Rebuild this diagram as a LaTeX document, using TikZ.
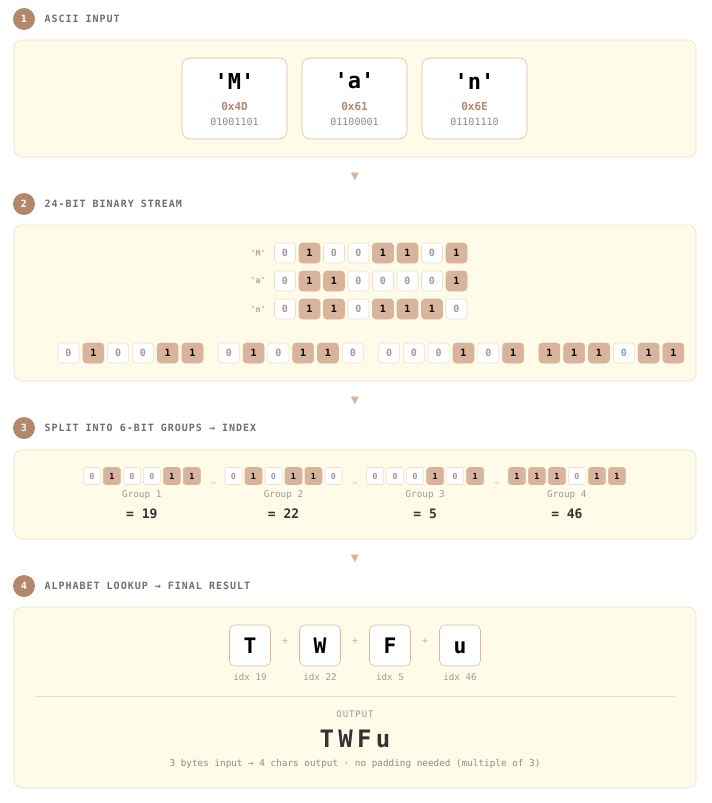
\documentclass[tikz,border=0pt]{standalone}
\usepackage{fontspec}
\setmonofont{DejaVu Sans Mono}
\newfontfamily\headfont[LetterSpace=10]{DejaVu Sans Mono}
\newfontfamily\outfont[LetterSpace=10]{DejaVu Sans Mono}
\newfontfamily\resultfont[LetterSpace=18]{DejaVu Sans Mono}
\usepackage{tikz}
\usetikzlibrary{positioning, calc}

\definecolor{panelfill}{HTML}{FEFCE8}
\definecolor{panelline}{HTML}{EEDDBF}
\definecolor{accent}{HTML}{B3876A}
\definecolor{bitone}{HTML}{D9B49C}
\definecolor{bitline}{HTML}{EBDDC8}
\definecolor{cardline}{HTML}{DDB69C}
\definecolor{headgray}{HTML}{6E6E73}
\definecolor{hexcol}{HTML}{B5896D}
\definecolor{softgray}{HTML}{9A9A9A}
\definecolor{darktext}{HTML}{333333}
\definecolor{markcol}{HTML}{D6B59E}

\begin{document}
\begin{tikzpicture}[
        x=0.75pt, y=-0.75pt,
        font=\ttfamily,
        panel/.style={draw=panelline, fill=panelfill, rounded corners=6pt, minimum width=511.5pt, inner sep=0pt},
        badge/.style={circle, fill=accent, text=white, minimum size=16.5pt, inner sep=0pt, font=\ttfamily\bfseries\fontsize{7.5pt}{8pt}\selectfont},
        section title/.style={inner sep=0pt, text=headgray, font=\headfont\bfseries\fontsize{7.5pt}{9pt}\selectfont},
        down mark/.style={text=markcol, inner sep=0pt, font=\ttfamily\fontsize{10pt}{11pt}\selectfont},
        char card/.style={draw=cardline, fill=white, rounded corners=6pt, minimum width=78.75pt, minimum height=60.75pt},
        big char/.style={inner sep=0pt, text=black, font=\ttfamily\bfseries\fontsize{16.5pt}{18pt}\selectfont},
        hex value/.style={inner sep=0pt, text=hexcol, font=\ttfamily\bfseries\fontsize{8.25pt}{9pt}\selectfont},
        bin value/.style={inner sep=0pt, text=softgray!90!black, font=\ttfamily\fontsize{7.5pt}{9pt}\selectfont},
        row label/.style={inner sep=0pt, anchor=east, text=hexcol!80, font=\ttfamily\bfseries\fontsize{6.25pt}{7pt}\selectfont},
        bit/.style={rounded corners=2.5pt, minimum width=15.75pt, minimum height=15pt, inner sep=0pt, font=\ttfamily\bfseries\fontsize{7.5pt}{8pt}\selectfont},
        bit0/.style={bit, draw=bitline, fill=white, text=softgray},
        bit1/.style={bit, draw=bitone, fill=bitone, text=black},
        small/.style={minimum width=12.75pt, minimum height=12.75pt, rounded corners=2pt, font=\ttfamily\bfseries\fontsize{6.25pt}{7pt}\selectfont},
        group label/.style={inner sep=0pt, text=softgray, font=\ttfamily\fontsize{7pt}{8pt}\selectfont},
        group value/.style={inner sep=0pt, text=darktext, font=\ttfamily\bfseries\fontsize{9.75pt}{11pt}\selectfont},
        small arrow/.style={inner sep=0pt, text=markcol!80, font=\ttfamily\fontsize{6pt}{7pt}\selectfont},
        letter card/.style={draw=cardline, fill=white, rounded corners=4pt, minimum size=30.75pt, text height=11.7pt, text depth=0pt, inner sep=0pt, font=\ttfamily\bfseries\fontsize{16pt}{18pt}\selectfont},
        plus sign/.style={inner sep=0pt, text=markcol, font=\ttfamily\fontsize{8pt}{9pt}\selectfont},
        idx label/.style={inner sep=0pt, text=softgray, font=\ttfamily\fontsize{6.9pt}{8pt}\selectfont}
    ]

    % page
    \fill[white] (0,0) rectangle (711,803);
    \useasboundingbox (0,0) rectangle (711,803);

    % Step 1: ASCII input
    \node[badge] (b1) at (24,19) {1};
    \node[section title, right=6.75pt of b1] (t1) {ASCII INPUT};
    \node[panel, minimum height=87.75pt] (p1) at (355,98.5) {};
    \foreach \c/\h/\bn [count=\k] in {M/4D/01001101, a/61/01100001, n/6E/01101110} {
        \node[char card] (card\k) at (114.5+120*\k,98.5) {};
        \node[big char] (ch\k) at (114.5+120*\k,81) {'\c'};
        \node[hex value] (hx\k) at (114.5+120*\k,106.5) {0x\h};
        \node[bin value] (bn\k) at (114.5+120*\k,121.5) {\bn};
    }

    \node[down mark] (d1) at (355,177) {▼};

    % Step 2: 24-bit stream
    \node[badge] (b2) at (24,204) {2};
    \node[section title, right=6.75pt of b2] (t2) {24-BIT BINARY STREAM};
    \node[panel, minimum height=117pt] (p2) at (355,303) {};

    \node[row label] (lM) at (266,253) {'M'};
    \node[row label] (la) at (266,281) {'a'};
    \node[row label] (ln) at (266,309) {'n'};
    \foreach \b [count=\i] in {0,1,0,0,1,1,0,1}
        \node[bit\b] (rM\i) at (260.5+24.5*\i,253) {\b};
    \foreach \b [count=\i] in {0,1,1,0,0,0,0,1}
        \node[bit\b] (ra\i) at (260.5+24.5*\i,281) {\b};
    \foreach \b [count=\i] in {0,1,1,0,1,1,1,0}
        \node[bit\b] (rn\i) at (260.5+24.5*\i,309) {\b};

    % stream, split in four
    \foreach \b [count=\i] in {0,1,0,0,1,1, 0,1,0,1,1,0, 0,0,0,1,0,1, 1,1,1,0,1,1} {
        \pgfmathsetmacro\sx{68.5+(\i-1)*24.8+floor((\i-1)/6)*11.5}
        \node[bit\b] (s\i) at (\sx,353) {\b};
    }

    \node[down mark] (d2) at (355,401) {▼};

    % Step 3: 6-bit groups
    \node[badge] (b3) at (24,428) {3};
    \node[section title, right=6.75pt of b3] (t3) {SPLIT INTO 6-BIT GROUPS → INDEX};
    \node[panel, minimum height=66.75pt] (p3) at (355,494.5) {};
    \foreach \b [count=\i] in {0,1,0,0,1,1, 0,1,0,1,1,0, 0,0,0,1,0,1, 1,1,1,0,1,1} {
        \pgfmathsetmacro\gx{91.8+(\i-1)*20+floor((\i-1)/6)*21.7}
        \node[bit\b, small] (g\i) at (\gx,476) {\b};
    }
    \foreach \n/\v [count=\k] in {1/19, 2/22, 3/5, 4/46} {
        \node[group label] (gl\k) at (141.8+141.7*\k-141.7,495) {Group \n};
        \node[group value] (gv\k) at (141.8+141.7*\k-141.7,514) {= \v};
    }
    \foreach \k in {1,2,3}
        \node[small arrow] (ga\k) at (71.3+141.7*\k,484) {→};

    \node[down mark] (d3) at (355,559) {▼};

    % Step 4: alphabet lookup
    \node[badge] (b4) at (24,586) {4};
    \node[section title, right=6.75pt of b4] (t4) {ALPHABET LOOKUP → FINAL RESULT};
    \node[panel, minimum height=135.75pt] (p4) at (355,697.5) {};
    \foreach \l/\v [count=\k] in {T/19, W/22, F/5, u/46} {
        \node[letter card] (lc\k) at (180+70*\k,645.5) {\l};
        \node[idx label] (ix\k) at (180+70*\k,677) {idx \v};
    }
    \foreach \k in {1,2,3}
        \node[plus sign] (pl\k) at (215+70*\k,641) {+};

    \coordinate (sepL) at (35,696);
    \coordinate (sepR) at (675,696);
    \draw[panelline, line width=0.75pt] (sepL) -- (sepR);

    \node[inner sep=0pt, text=softgray, font=\outfont\fontsize{6.75pt}{8pt}\selectfont] (outlabel) at (355,714) {OUTPUT};
    \node[inner sep=0pt, text=darktext, font=\resultfont\bfseries\fontsize{18pt}{20pt}\selectfont] (result) at (355,739) {TWFu};
    \node[inner sep=0pt, text=softgray!90!black, font=\ttfamily\fontsize{7pt}{8pt}\selectfont] (note) at (355,764) {3 bytes input → 4 chars output · no padding needed (multiple of 3)};

\end{tikzpicture}
\end{document}
